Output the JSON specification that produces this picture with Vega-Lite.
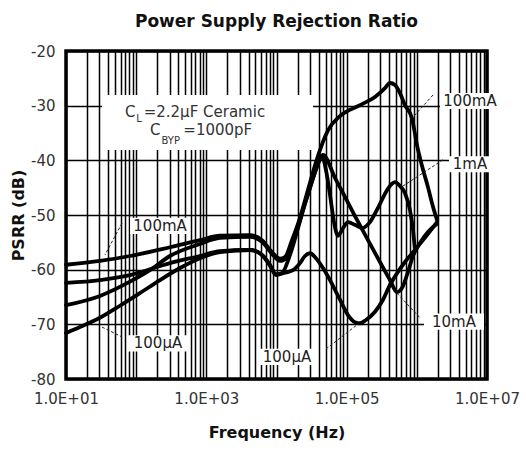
{
  "$schema": "https://vega.github.io/schema/vega-lite/v6.json",
  "autosize": {"type": "none"},
  "padding": {"left": 66, "top": 51, "right": 39, "bottom": 76},
  "width": 421,
  "height": 328,
  "background": "white",
  "title": {"text": "Power Supply Rejection Ratio", "font": "DejaVu Sans", "fontSize": 17, "fontWeight": "bold", "color": "#111", "offset": 13},
  "config": {
    "font": "DejaVu Sans",
    "view": {"stroke": "black", "strokeWidth": 3.5},
    "axis": {"gridColor": "black", "gridOpacity": 1, "gridWidth": 1.5, "ticks": false, "domain": false, "labelColor": "#333", "labelFontSize": 15, "labelFont": "DejaVu Sans", "titleFont": "DejaVu Sans", "titleFontWeight": "bold", "titleFontSize": 16, "titleColor": "#111"}
  },
  "datasets": {
    "curves": [
      {"curve": "100mA", "f": 10, "db": -59.1}, {"curve": "100mA", "f": 30.5, "db": -58.4}, {"curve": "100mA", "f": 81.7, "db": -57.5}, {"curve": "100mA", "f": 303, "db": -55.9}, {"curve": "100mA", "f": 812, "db": -54.6}, {"curve": "100mA", "f": 1566, "db": -53.8}, {"curve": "100mA", "f": 4190, "db": -53.7}, {"curve": "100mA", "f": 6213, "db": -54.6}, {"curve": "100mA", "f": 8625, "db": -56.8}, {"curve": "100mA", "f": 11210, "db": -58.0}, {"curve": "100mA", "f": 13210, "db": -57.7}, {"curve": "100mA", "f": 16620, "db": -54.6}, {"curve": "100mA", "f": 21610, "db": -50.5}, {"curve": "100mA", "f": 28100, "db": -45.4}, {"curve": "100mA", "f": 36530, "db": -40.3}, {"curve": "100mA", "f": 54180, "db": -34.5}, {"curve": "100mA", "f": 80330, "db": -31.9}, {"curve": "100mA", "f": 154800, "db": -29.9}, {"curve": "100mA", "f": 253300, "db": -28.4}, {"curve": "100mA", "f": 351700, "db": -26.8}, {"curve": "100mA", "f": 414400, "db": -25.85}, {"curve": "100mA", "f": 488300, "db": -26.2}, {"curve": "100mA", "f": 575300, "db": -27.7}, {"curve": "100mA", "f": 677900, "db": -29.9}, {"curve": "100mA", "f": 852900, "db": -32.3}, {"curve": "100mA", "f": 1005000, "db": -37.2}, {"curve": "100mA", "f": 1184000, "db": -41.0}, {"curve": "100mA", "f": 1441000, "db": -44.9}, {"curve": "100mA", "f": 1699000, "db": -48.5}, {"curve": "100mA", "f": 1937000, "db": -50.9},
      {"curve": "10mA", "f": 10, "db": -66.5}, {"curve": "10mA", "f": 30.5, "db": -64.8}, {"curve": "10mA", "f": 81.7, "db": -62.2}, {"curve": "10mA", "f": 157, "db": -60.1}, {"curve": "10mA", "f": 303, "db": -57.5}, {"curve": "10mA", "f": 812, "db": -55.3}, {"curve": "10mA", "f": 1566, "db": -54.2}, {"curve": "10mA", "f": 4190, "db": -54.0}, {"curve": "10mA", "f": 6213, "db": -54.9}, {"curve": "10mA", "f": 8625, "db": -57.1}, {"curve": "10mA", "f": 11210, "db": -58.4}, {"curve": "10mA", "f": 14110, "db": -57.7}, {"curve": "10mA", "f": 18340, "db": -53.7}, {"curve": "10mA", "f": 23850, "db": -49.1}, {"curve": "10mA", "f": 31010, "db": -44.5}, {"curve": "10mA", "f": 37760, "db": -41.2}, {"curve": "10mA", "f": 45980, "db": -39.0}, {"curve": "10mA", "f": 68170, "db": -43.2}, {"curve": "10mA", "f": 94630, "db": -46.7}, {"curve": "10mA", "f": 131400, "db": -50.2}, {"curve": "10mA", "f": 201300, "db": -54.6}, {"curve": "10mA", "f": 298400, "db": -58.6}, {"curve": "10mA", "f": 414400, "db": -61.9}, {"curve": "10mA", "f": 521400, "db": -64.1}, {"curve": "10mA", "f": 634800, "db": -63.0}, {"curve": "10mA", "f": 747800, "db": -60.4}, {"curve": "10mA", "f": 881300, "db": -57.5}, {"curve": "10mA", "f": 1109000, "db": -55.1}, {"curve": "10mA", "f": 1441000, "db": -53.1}, {"curve": "10mA", "f": 1937000, "db": -51.6},
      {"curve": "1mA", "f": 10, "db": -62.4}, {"curve": "1mA", "f": 30.5, "db": -61.9}, {"curve": "1mA", "f": 81.7, "db": -61.0}, {"curve": "1mA", "f": 303, "db": -58.8}, {"curve": "1mA", "f": 812, "db": -57.5}, {"curve": "1mA", "f": 1566, "db": -56.6}, {"curve": "1mA", "f": 4190, "db": -56.4}, {"curve": "1mA", "f": 6213, "db": -57.3}, {"curve": "1mA", "f": 8077, "db": -59.1}, {"curve": "1mA", "f": 9833, "db": -60.8}, {"curve": "1mA", "f": 11970, "db": -60.6}, {"curve": "1mA", "f": 15570, "db": -57.3}, {"curve": "1mA", "f": 20240, "db": -52.4}, {"curve": "1mA", "f": 26310, "db": -47.3}, {"curve": "1mA", "f": 34210, "db": -42.7}, {"curve": "1mA", "f": 44490, "db": -39.2}, {"curve": "1mA", "f": 50740, "db": -41.8}, {"curve": "1mA", "f": 57860, "db": -46.3}, {"curve": "1mA", "f": 65970, "db": -51.3}, {"curve": "1mA", "f": 75220, "db": -53.8}, {"curve": "1mA", "f": 88630, "db": -52.4}, {"curve": "1mA", "f": 104400, "db": -51.3}, {"curve": "1mA", "f": 131400, "db": -51.8}, {"curve": "1mA", "f": 165300, "db": -52.4}, {"curve": "1mA", "f": 214900, "db": -51.3}, {"curve": "1mA", "f": 279500, "db": -48.7}, {"curve": "1mA", "f": 363400, "db": -45.8}, {"curve": "1mA", "f": 442500, "db": -44.3}, {"curve": "1mA", "f": 488300, "db": -44.0}, {"curve": "1mA", "f": 575300, "db": -44.7}, {"curve": "1mA", "f": 677900, "db": -46.0}, {"curve": "1mA", "f": 798700, "db": -49.1}, {"curve": "1mA", "f": 881300, "db": -52.7}, {"curve": "1mA", "f": 941000, "db": -56.4},
      {"curve": "100µA", "f": 10, "db": -71.6}, {"curve": "100µA", "f": 15.8, "db": -70.5}, {"curve": "100µA", "f": 30.5, "db": -68.8}, {"curve": "100µA", "f": 58.8, "db": -66.6}, {"curve": "100µA", "f": 113, "db": -64.3}, {"curve": "100µA", "f": 219, "db": -61.9}, {"curve": "100µA", "f": 421, "db": -59.7}, {"curve": "100µA", "f": 812, "db": -57.9}, {"curve": "100µA", "f": 1566, "db": -56.8}, {"curve": "100µA", "f": 4190, "db": -56.4}, {"curve": "100µA", "f": 6213, "db": -57.3}, {"curve": "100µA", "f": 8077, "db": -59.3}, {"curve": "100µA", "f": 9833, "db": -61.0}, {"curve": "100µA", "f": 12790, "db": -60.6}, {"curve": "100µA", "f": 17180, "db": -60.1}, {"curve": "100µA", "f": 21610, "db": -58.8}, {"curve": "100µA", "f": 25470, "db": -57.5}, {"curve": "100µA", "f": 30010, "db": -57.0}, {"curve": "100µA", "f": 36530, "db": -57.9}, {"curve": "100µA", "f": 45980, "db": -59.7}, {"curve": "100µA", "f": 57860, "db": -61.9}, {"curve": "100µA", "f": 80330, "db": -65.5}, {"curve": "100µA", "f": 104400, "db": -68.3}, {"curve": "100µA", "f": 131400, "db": -69.6}, {"curve": "100µA", "f": 154800, "db": -69.8}, {"curve": "100µA", "f": 188500, "db": -69.2}, {"curve": "100µA", "f": 253300, "db": -67.7}, {"curve": "100µA", "f": 329400, "db": -65.5}, {"curve": "100µA", "f": 414400, "db": -62.8}, {"curve": "100µA", "f": 538700, "db": -60.4}, {"curve": "100µA", "f": 677900, "db": -58.6}, {"curve": "100µA", "f": 881300, "db": -56.8}, {"curve": "100µA", "f": 1224000, "db": -54.6}, {"curve": "100µA", "f": 1937000, "db": -51.3}
    ],
    "labels": [
      {"text": "100mA", "f": 5718000, "db": -29.15, "role": "curve"},
      {"text": "1mA", "f": 5718000, "db": -40.7, "role": "curve"},
      {"text": "10mA", "f": 3384000, "db": -69.5, "role": "curve"},
      {"text": "100µA", "f": 14110, "db": -75.95, "role": "curve"},
      {"text": "100mA", "f": 219, "db": -52.0, "role": "curve"},
      {"text": "100µA", "f": 204.6, "db": -73.5, "role": "curve"},
      {"text": "C", "f": 69.3, "db": -31.15, "role": "note"},
      {"text": "L", "f": 100.5, "db": -32.4, "role": "sub"},
      {"text": "=2.2µF Ceramic", "f": 128, "db": -31.15, "role": "note"},
      {"text": "C", "f": 157.4, "db": -34.45, "role": "note"},
      {"text": "BYP", "f": 230, "db": -36.45, "role": "sub"},
      {"text": "=1000pF", "f": 470, "db": -34.45, "role": "note"}
    ],
    "notebox": [{"f": 1039, "db": -33.08}],
    "leaders": [
      {"f1": 1699000, "db1": -28.05, "f2": 852900, "db2": -32.3},
      {"f1": 2359000, "db1": -39.9, "f2": 634800, "db2": -44.7},
      {"f1": 521400, "db1": -64.3, "f2": 1109000, "db2": -68.8},
      {"f1": 50740, "db1": -74.5, "f2": 140300, "db2": -70.1},
      {"f1": 62.8, "db1": -51.5, "f2": 35.9, "db2": -57.3},
      {"f1": 32.6, "db1": -70.5, "f2": 62.8, "db2": -72.3}
    ]
  },
  "layer": [
    {
      "data": {"name": "curves"},
      "mark": {"type": "line", "color": "black", "strokeWidth": 3.8, "interpolate": "monotone", "strokeJoin": "round", "strokeCap": "round"},
      "encoding": {
        "x": {"field": "f", "type": "quantitative", "scale": {"type": "log", "domain": [10, 10000000], "nice": false},
          "axis": {"title": "Frequency (Hz)", "titlePadding": 18, "labelPadding": 12, "labelOverlap": false, "labelFlush": false, "labelBound": false,
            "values": [10,20,30,40,50,60,70,80,90,100,200,300,400,500,600,700,800,900,1000,2000,3000,4000,5000,6000,7000,8000,9000,10000,20000,30000,40000,50000,60000,70000,80000,90000,100000,200000,300000,400000,500000,600000,700000,800000,900000,1000000,2000000,3000000,4000000,5000000,6000000,7000000,8000000,9000000,10000000],
            "labelExpr": "datum.value == pow(10, round(log(datum.value)/LN10)) && round(log(datum.value)/LN10) % 2 == 1 ? '1.0E+0' + round(log(datum.value)/LN10) : ''"}},
        "y": {"field": "db", "type": "quantitative", "scale": {"domain": [-80, -20], "nice": false},
          "axis": {"title": "PSRR (dB)", "values": [-80, -70, -60, -50, -40, -30, -20], "labelExpr": "'' + datum.value", "labelPadding": 11, "titlePadding": 4}},
        "detail": {"field": "curve"}
      }
    },
    {
      "data": {"name": "notebox"},
      "mark": {"type": "point", "shape": "M-1,-0.26H1V0.26H-1Z", "filled": true, "fill": "white", "opacity": 1, "strokeWidth": 0, "size": 44521},
      "encoding": {"x": {"field": "f", "type": "quantitative"}, "y": {"field": "db", "type": "quantitative"}}
    },
    {
      "data": {"name": "labels"},
      "transform": [{"filter": "datum.role == 'curve' && datum.text != '1mA'"}],
      "mark": {"type": "point", "shape": "M-1,-0.27H1V0.27H-1Z", "filled": true, "fill": "white", "opacity": 1, "strokeWidth": 0, "size": 3600},
      "encoding": {"x": {"field": "f", "type": "quantitative"}, "y": {"field": "db", "type": "quantitative"}}
    },
    {
      "data": {"name": "labels"},
      "transform": [{"filter": "datum.text == '1mA'"}],
      "mark": {"type": "point", "shape": "M-1,-0.38H1V0.38H-1Z", "filled": true, "fill": "white", "opacity": 1, "strokeWidth": 0, "size": 1764},
      "encoding": {"x": {"field": "f", "type": "quantitative"}, "y": {"field": "db", "type": "quantitative"}}
    },
    {
      "data": {"name": "leaders"},
      "mark": {"type": "rule", "color": "#223", "strokeWidth": 1, "strokeDash": [3, 2]},
      "encoding": {"x": {"field": "f1", "type": "quantitative"}, "y": {"field": "db1", "type": "quantitative"}, "x2": {"field": "f2"}, "y2": {"field": "db2"}}
    },
    {
      "data": {"name": "labels"},
      "transform": [{"filter": "datum.role == 'curve'"}],
      "mark": {"type": "text", "font": "DejaVu Sans", "fontSize": 15, "color": "#222", "align": "center", "baseline": "middle"},
      "encoding": {"x": {"field": "f", "type": "quantitative"}, "y": {"field": "db", "type": "quantitative"}, "text": {"field": "text"}}
    },
    {
      "data": {"name": "labels"},
      "transform": [{"filter": "datum.role == 'note'"}],
      "mark": {"type": "text", "font": "DejaVu Sans", "fontSize": 15, "color": "#333", "align": "left", "baseline": "middle"},
      "encoding": {"x": {"field": "f", "type": "quantitative"}, "y": {"field": "db", "type": "quantitative"}, "text": {"field": "text"}}
    },
    {
      "data": {"name": "labels"},
      "transform": [{"filter": "datum.role == 'sub'"}],
      "mark": {"type": "text", "font": "DejaVu Sans", "fontSize": 10, "color": "#333", "align": "left", "baseline": "middle"},
      "encoding": {"x": {"field": "f", "type": "quantitative"}, "y": {"field": "db", "type": "quantitative"}, "text": {"field": "text"}}
    }
  ]
}
